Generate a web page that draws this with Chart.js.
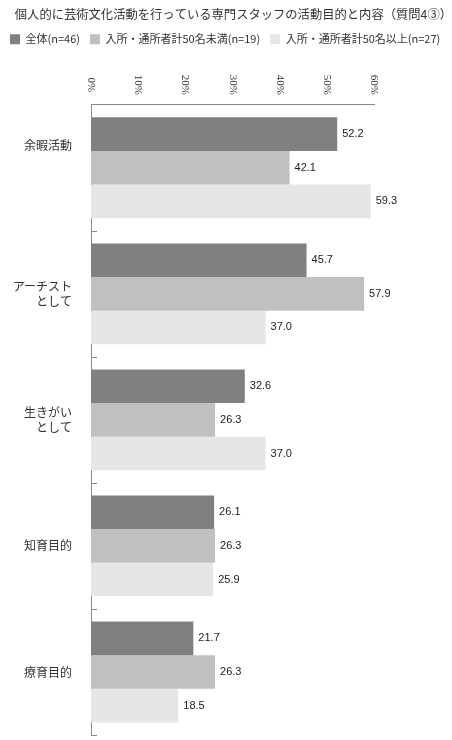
<!DOCTYPE html>
<html>
<head>
<meta charset="utf-8">
<script src="https://cdn.jsdelivr.net/npm/chart.js@4"></script>
<style>
  html, body { margin: 0; padding: 0; background: #fff; }
  #wrap { width: 452px; height: 740px; }
</style>
</head>
<body>
<div id="wrap"><canvas id="bar-chart"></canvas></div>
<script>
// data
const categories = [['余暇活動', '', '', ''], ['アーチスト', 'として'], ['生きがい', 'として'], '知育目的', '療育目的'];
const seriesNames = ['全体(n=46)', '入所・通所者計50名未満(n=19)', '入所・通所者計50名以上(n=27)'];
const allValues = [52.2, 45.7, 32.6, 26.1, 21.7];
const under50Values = [42.1, 57.9, 26.3, 26.3, 26.3];
const over50Values = [59.3, 37.0, 37.0, 25.9, 18.5];
const xTickValues = [0, 10, 20, 30, 40, 50, 60];
const xTickLabels = ['0%', '10%', '20%', '30%', '40%', '50%', '60%'];

const jpFont = '"Noto Sans CJK JP", sans-serif';

// x tick labels, turned a quarter clockwise
const topTicks = {
    id: 'topTicks',
    afterDraw(chart) {
        const ctx = chart.ctx;
        const x = chart.scales.x;
        ctx.save();
        ctx.fillStyle = '#333';
        ctx.font = '11px "Liberation Serif", serif';
        ctx.textAlign = 'center';
        ctx.textBaseline = 'middle';
        xTickValues.forEach((v, i) => {
            ctx.save();
            ctx.translate(x.getPixelForValue(v), chart.chartArea.top - 20);
            ctx.rotate(Math.PI / 2);
            ctx.fillText(xTickLabels[i], 0, 0);
            ctx.restore();
        });
        ctx.restore();
    }
};

// short tick marks on the inside of the y axis, between groups
const innerTicks = {
    id: 'innerTicks',
    afterDraw(chart) {
        const ctx = chart.ctx;
        const y = chart.scales.y;
        const left = chart.chartArea.left;
        ctx.save();
        ctx.strokeStyle = '#888';
        ctx.lineWidth = 1;
        ctx.beginPath();
        for (let i = 1; i <= categories.length; i++) {
            const py = i < categories.length
                ? (y.getPixelForValue(i - 1) + y.getPixelForValue(i)) / 2
                : chart.chartArea.bottom;
            ctx.moveTo(left, Math.round(py) + 0.5);
            ctx.lineTo(left + 6, Math.round(py) + 0.5);
        }
        ctx.stroke();
        ctx.restore();
    }
};

// value at the end of each bar
const barValues = {
    id: 'barValues',
    afterDatasetsDraw(chart) {
        const ctx = chart.ctx;
        ctx.save();
        ctx.fillStyle = '#222';
        ctx.font = '11px "Liberation Sans", sans-serif';
        ctx.textAlign = 'left';
        ctx.textBaseline = 'middle';
        chart.data.datasets.forEach((ds, i) => {
            chart.getDatasetMeta(i).data.forEach((bar, j) => {
                ctx.fillText(ds.data[j].toFixed(1), bar.x + 5, bar.y);
            });
        });
        ctx.restore();
    }
};

new Chart(document.getElementById('bar-chart'), {
    type: 'bar',
    data: {
        labels: categories,
        datasets: [{
            label: seriesNames[0],
            data: allValues,
            backgroundColor: '#808080',
            borderWidth: 0
        }, {
            label: seriesNames[1],
            data: under50Values,
            backgroundColor: '#c0c0c0',
            borderWidth: 0
        }, {
            label: seriesNames[2],
            data: over50Values,
            backgroundColor: '#e6e6e6',
            borderWidth: 0
        }]
    },
    options: {
        indexAxis: 'y',
        responsive: true,
        maintainAspectRatio: false,
        animation: false,
        events: [],
        categoryPercentage: 0.8,
        barPercentage: 1.0,
        layout: {
            padding: { left: 0, right: 0, top: 0, bottom: 5 }
        },
        plugins: {
            title: {
                display: true,
                align: 'end',
                text: '個人的に芸術文化活動を行っている専門スタッフの活動目的と内容（質問4③）',
                color: '#333',
                font: { family: jpFont, size: 12.3, weight: 'normal' },
                padding: { top: 7, bottom: 2 }
            },
            legend: {
                display: true,
                position: 'top',
                align: 'start',
                labels: {
                    color: '#333',
                    font: { family: jpFont, size: 11 },
                    boxWidth: 10,
                    boxHeight: 10,
                    padding: 10
                }
            },
            tooltip: { enabled: false }
        },
        scales: {
            x: {
                position: 'top',
                min: 0,
                max: 60,
                ticks: { display: false, stepSize: 10 },
                grid: { display: false },
                border: { color: '#888' },
                afterFit(scale) { scale.height = 50; }
            },
            y: {
                position: 'left',
                ticks: {
                    color: '#333',
                    font: { family: jpFont, size: 12, lineHeight: 1.25 },
                    padding: 19
                },
                grid: { display: false, drawTicks: false },
                border: { color: '#888' },
                afterFit(scale) {
                    scale.width = 91;
                    scale.paddingTop = 0;
                    scale.paddingBottom = 0;
                }
            },
            spacer: {
                type: 'linear',
                position: 'right',
                ticks: { display: false },
                grid: { display: false },
                border: { display: false },
                afterFit(scale) {
                    scale.width = 78;
                    scale.paddingTop = 0;
                    scale.paddingBottom = 0;
                }
            }
        }
    },
    plugins: [topTicks, innerTicks, barValues]
});
</script>
</body>
</html>
